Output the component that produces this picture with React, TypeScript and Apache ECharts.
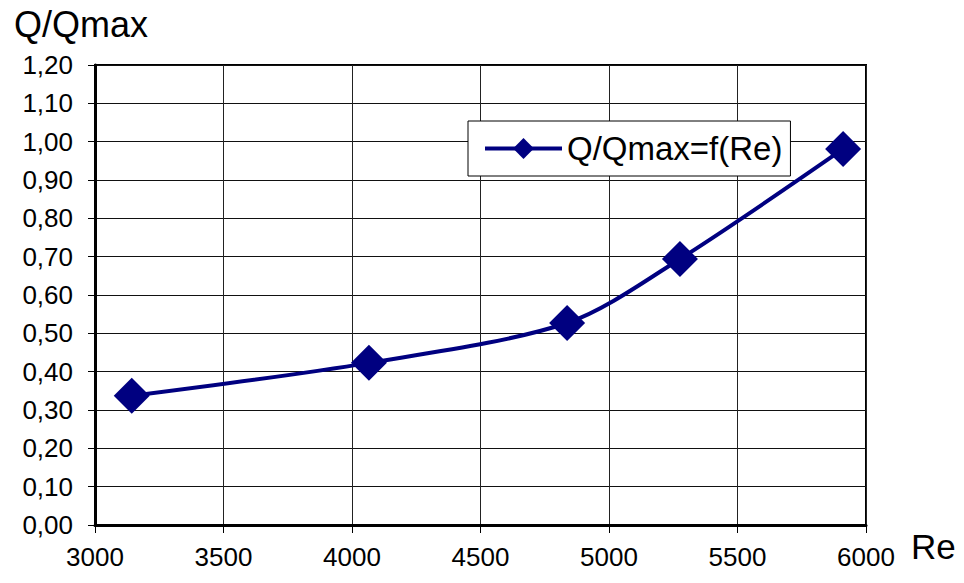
import React, { useEffect, useRef } from 'react';
import * as echarts from 'echarts';

const reValues = [3143, 4066, 4837, 5276, 5911];
const qRatio = [0.337, 0.423, 0.527, 0.694, 0.981];
const seriesName = 'Q/Qmax=f(Re)';
const yAxisTitle = 'Q/Qmax';
const xAxisTitle = 'Re';

const FONT = '"Liberation Sans", Arial, sans-serif';

export default function App() {
  const ref = useRef<HTMLDivElement>(null);
  useEffect(() => {
    const chart = echarts.init(ref.current!, null, { renderer: 'svg' });
    chart.setOption({
      animation: false,
      backgroundColor: '#fff',
      grid: {
        left: 95,
        right: 98,
        top: 65,
        bottom: 58,
        show: true,
        borderColor: '#000',
        borderWidth: 2,
        backgroundColor: 'transparent',
      },
      xAxis: {
        type: 'value',
        min: 3000,
        max: 6000,
        interval: 500,
        axisLine: { show: true, onZero: false, lineStyle: { color: '#000', width: 3 } },
        axisTick: { show: true, length: 8, lineStyle: { color: '#000', width: 1 } },
        axisLabel: {
          fontSize: 26,
          fontFamily: FONT,
          color: '#000',
          margin: 19,
          formatter: (v: number) => String(v),
        },
        splitLine: { show: true, lineStyle: { color: '#222', width: 1 } },
      },
      yAxis: {
        type: 'value',
        min: 0,
        max: 1.2,
        interval: 0.1,
        axisLine: { show: true, onZero: false, lineStyle: { color: '#000', width: 3 } },
        axisTick: { show: true, length: 7, lineStyle: { color: '#000', width: 1 } },
        axisLabel: {
          fontSize: 26,
          fontFamily: FONT,
          color: '#000',
          margin: 22,
          formatter: (v: number) => v.toFixed(2).replace('.', ','),
        },
        splitLine: { show: true, lineStyle: { color: '#111', width: 1 } },
      },
      legend: {
        left: 468,
        top: 121,
        padding: [11, 8, 11, 15],
        borderColor: '#000',
        borderWidth: 1,
        backgroundColor: '#fff',
        itemWidth: 77,
        itemHeight: 26,
        lineStyle: { width: 4 },
        textStyle: { fontSize: 33, fontFamily: FONT, color: '#000' },
        data: [seriesName],
      },
      graphic: [
        {
          type: 'text',
          left: 14,
          top: 6,
          style: { text: yAxisTitle, font: `36px ${FONT}`, fill: '#000' },
        },
        {
          type: 'text',
          left: 911,
          top: 529,
          style: { text: xAxisTitle, font: `35px ${FONT}`, fill: '#000' },
        },
      ],
      series: [
        {
          name: seriesName,
          type: 'line',
          smooth: 0.3,
          symbol: 'diamond',
          symbolSize: 36,
          data: reValues.map((x, i) => [x, qRatio[i]]),
          lineStyle: { color: '#000080', width: 4 },
          itemStyle: { color: '#000080' },
        },
      ],
    });
    return () => chart.dispose();
  }, []);
  return <div ref={ref} style={{ position: 'fixed', left: 0, top: 0, width: 964, height: 583 }} />;
}
